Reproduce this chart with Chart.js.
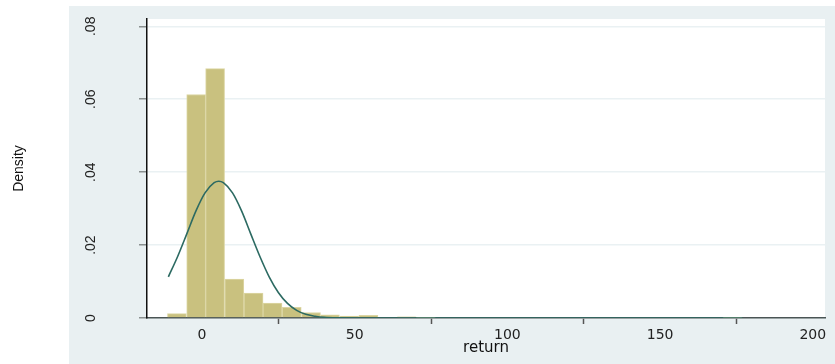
<!DOCTYPE html>
<html>
<head>
<meta charset="utf-8">
<script src="https://cdn.jsdelivr.net/npm/chart.js@4"></script>
<style>
  html, body { margin: 0; padding: 0; background: #ffffff; }
  #wrap { width: 835px; height: 364px; position: relative; }
</style>
</head>
<body>
<div id="wrap"><canvas id="grafico" width="835" height="364"></canvas></div>
<script>
// histogram bins of "return" (bin centres) and their densities
const binCentres = [-8.2, -1.9, 4.3, 10.6, 16.9, 23.1, 29.4, 35.7, 41.9, 48.2,
  54.5, 60.8, 67.0, 73.3, 79.6, 85.8, 92.1, 98.4, 104.7, 110.9,
  117.2, 123.5, 129.8, 136.0, 142.3, 148.6, 154.9, 161.1, 167.4, 173.7];
const densities = [0.0012, 0.0613, 0.0684, 0.0107, 0.0068, 0.0041, 0.0029, 0.0015, 0.0009, 0.0005,
  0.0007, 0, 0.0003, 0.0001, 0, 0, 0, 0, 0, 0,
  0, 0, 0, 0, 0, 0, 0, 0, 0, 0.0001];

// normal density overlay
const curveX = [-11, -8, -5, -2, 1, 4, 5.5, 7, 10, 13, 16, 19, 22, 25, 28, 31, 34, 37, 40, 45, 50, 177];
const curveY = [0.0113, 0.0168, 0.0230, 0.0293, 0.0343, 0.0371, 0.0375, 0.0371, 0.0343, 0.0293,
  0.0230, 0.0168, 0.0113, 0.0070, 0.0040, 0.0021, 0.0010, 0.0005, 0.0002, 0.00004, 0, 0];

const xTicks = [0, 50, 100, 150, 200];
const yTicks = [0, 0.02, 0.04, 0.06, 0.08];

// stata-like backgrounds
const fundo = {
  id: 'fundo',
  beforeDraw(chart) {
    const c = chart.ctx;
    const a = chart.chartArea;
    c.save();
    c.fillStyle = '#ffffff';
    c.fillRect(0, 0, chart.width, chart.height);
    c.fillStyle = '#e9f0f2';
    c.fillRect(69, 6, chart.width - 69, chart.height - 6);
    c.fillStyle = '#ffffff';
    c.fillRect(a.left, a.top, a.right - a.left, a.bottom - a.top);
    c.restore();
  }
};

const ctx = document.getElementById('grafico').getContext('2d');
new Chart(ctx, {
  type: 'bar',
  data: {
    datasets: [{
      type: 'line',
      data: curveX.map((x, i) => ({ x: x, y: curveY[i] })),
      borderColor: '#2c6a62',
      borderWidth: 1.6,
      pointRadius: 0,
      fill: false,
      cubicInterpolationMode: 'monotone',
      order: 0
    }, {
      data: binCentres.map((x, i) => ({ x: x, y: densities[i] })),
      backgroundColor: '#c9c17f',
      borderColor: '#dcd6a4',
      borderWidth: 1,
      borderSkipped: 'bottom',
      barPercentage: 1,
      categoryPercentage: 1,
      order: 1
    }]
  },
  options: {
    responsive: false,
    animation: false,
    layout: { padding: { top: 19, right: 10, left: 0, bottom: 0 } },
    plugins: { legend: { display: false }, tooltip: { enabled: false } },
    scales: {
      x: {
        type: 'linear',
        min: -18,
        max: 204,
        offset: false,
        afterBuildTicks: s => { s.ticks = xTicks.map(v => ({ value: v })); },
        afterFit: s => { s.height = 46; s.paddingLeft = 0; s.paddingRight = 0; },
        ticks: {
          padding: 3,
          color: '#222',
          font: { family: 'DejaVu Sans', size: 14 },
          callback: v => String(v)
        },
        grid: { drawOnChartArea: false, drawTicks: true, tickLength: 6, tickColor: '#555', tickWidth: 1.5 },
        border: { color: '#4a5555', width: 1.5 },
        title: {
          display: true,
          text: 'return',
          color: '#111',
          font: { family: 'DejaVu Sans', size: 15, lineHeight: 1.2 },
          padding: { top: 0, bottom: 7 }
        }
      },
      y: {
        min: 0,
        max: 0.082,
        afterBuildTicks: s => { s.ticks = yTicks.map(v => ({ value: v })); },
        afterFit: s => { s.width = 147; s.paddingTop = 0; s.paddingBottom = 0; },
        ticks: {
          minRotation: 90,
          maxRotation: 90,
          crossAlign: 'center',
          padding: 38,
          color: '#222',
          font: { family: 'Liberation Sans', size: 14 },
          callback: v => v === 0 ? '0' : v.toFixed(2).replace(/^0/, '')
        },
        grid: { color: '#eaf1f3', lineWidth: 1.5, tickLength: 8, tickColor: '#8a9090', tickWidth: 1.5 },
        border: { color: '#111', width: 1.5 },
        title: {
          display: true,
          text: 'Density',
          color: '#111',
          font: { family: 'Liberation Sans', size: 14, lineHeight: 1.2 },
          padding: { top: 11, bottom: 0 }
        }
      }
    }
  },
  plugins: [fundo]
});
</script>
</body>
</html>
